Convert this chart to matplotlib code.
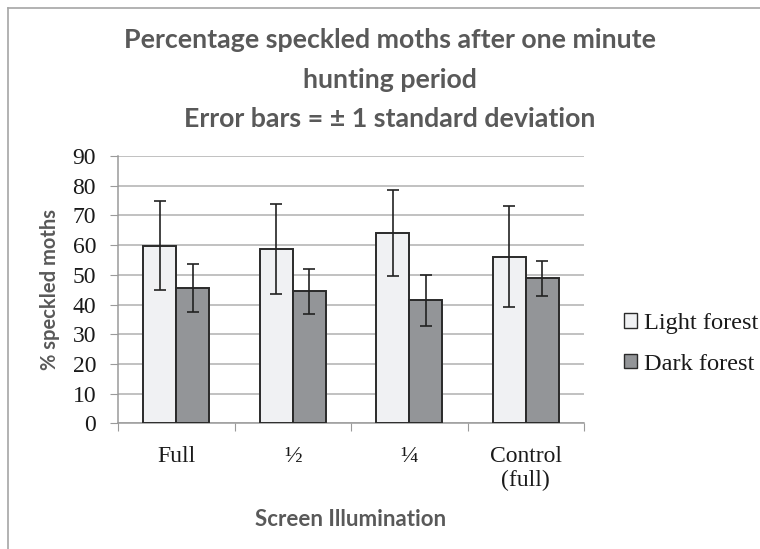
import matplotlib as mpl
mpl.use('Agg')
import matplotlib.pyplot as plt
from matplotlib.patches import Patch
from matplotlib.lines import Line2D
import numpy as np

# data
categories = ['Full', '\u00bd', '\u00bc', 'Control\n(full)']
light_mean = [59.8, 58.6, 64.1, 56.1]
light_sd = [15.0, 15.2, 14.4, 17.0]
dark_mean = [45.7, 44.4, 41.4, 48.8]
dark_sd = [8.1, 7.5, 8.7, 6.0]
series_names = ['Light forest', 'Dark forest']
title_lines = ['Percentage speckled moths after one minute', 'hunting period',
               'Error bars = \u00b1 1 standard deviation']

title_col = '#595959'
sans = ['Lato', 'DejaVu Sans']
serif = ['Liberation Serif', 'DejaVu Serif']
W, H = 760, 549

fig = plt.figure(figsize=(W / 100, H / 100), dpi=100)
ax = fig.add_axes([118 / W, 1 - 423.3 / H, 466 / W, 267.3 / H])

x = np.arange(len(categories))
w = 0.285
err_kw = dict(ecolor='#222222', elinewidth=1.2, capsize=4, capthick=1.2)
ax.bar(x - w / 2, light_mean, w, yerr=light_sd, color='#f0f1f3',
       edgecolor='#2a2a2a', linewidth=1.4, error_kw=err_kw, zorder=3)
ax.bar(x + w / 2, dark_mean, w, yerr=dark_sd, color='#939598',
       edgecolor='#2a2a2a', linewidth=1.4, error_kw=err_kw, zorder=3)

ax.set_xlim(-0.5, len(categories) - 0.5)
ax.set_ylim(0, 90)
ax.set_yticks(range(0, 91, 10))
ax.yaxis.grid(True, color='#b0b0b0', linewidth=1.1, zorder=0)
ax.set_axisbelow(True)

# boundaries as major ticks, labels on minor ticks at category centres
ax.set_xticks(np.arange(-0.5, len(categories), 1.0))
ax.set_xticklabels([])
ax.set_xticks(x, minor=True)
ax.set_xticklabels(categories, minor=True, fontfamily=serif, fontsize=17,
                   color='#1a1a1a', linespacing=1.2, va='top')
ax.tick_params(axis='x', which='minor', length=0, pad=16)
ax.tick_params(axis='x', which='major', length=5.8, color='#9a9a9a', direction='out')
ax.tick_params(axis='y', length=5.8, color='#9a9a9a', direction='out', pad=10)
for lab in ax.get_yticklabels():
    lab.set_fontfamily(serif)
    lab.set_fontsize(17)
    lab.set_color('#1a1a1a')

for s in ['top', 'right']:
    ax.spines[s].set_visible(False)
for s in ['left', 'bottom']:
    ax.spines[s].set_color('#9a9a9a')
    ax.spines[s].set_linewidth(1.1)

ax.set_ylabel('% speckled moths', fontfamily=sans, fontweight='bold',
              fontsize=14.5, color=title_col, labelpad=9)
ax.set_xlabel('Screen Illumination', fontfamily=sans, fontweight='bold',
              fontsize=16, color=title_col, labelpad=13)

for i, line in enumerate(title_lines):
    fig.text(390 / W, 1 - (40 + 39.5 * i) / H, line, ha='center', va='center',
             fontfamily=sans, fontweight='bold', fontsize=19.3, color=title_col)

handles = [Patch(facecolor='#f0f1f3', edgecolor='#2a2a2a', linewidth=1.0),
           Patch(facecolor='#939598', edgecolor='#2a2a2a', linewidth=1.0)]
fig.legend(handles, series_names, loc='center left',
           bbox_to_anchor=(612 / W, 1 - 344 / H), frameon=False, borderpad=0,
           prop={'family': serif, 'size': 17.6}, handlelength=0.52,
           handleheight=0.52, handletextpad=0.27, labelspacing=0.8,
           labelcolor='#1a1a1a')

# outer chart frame
fig.add_artist(Line2D([8 / W, 1], [1 - 8 / H] * 2, transform=fig.transFigure,
                      color='#a6a6a6', linewidth=1.2))
fig.add_artist(Line2D([8 / W] * 2, [0, 1 - 8 / H], transform=fig.transFigure,
                      color='#a6a6a6', linewidth=1.2))

fig.savefig('out.png', dpi=100)
